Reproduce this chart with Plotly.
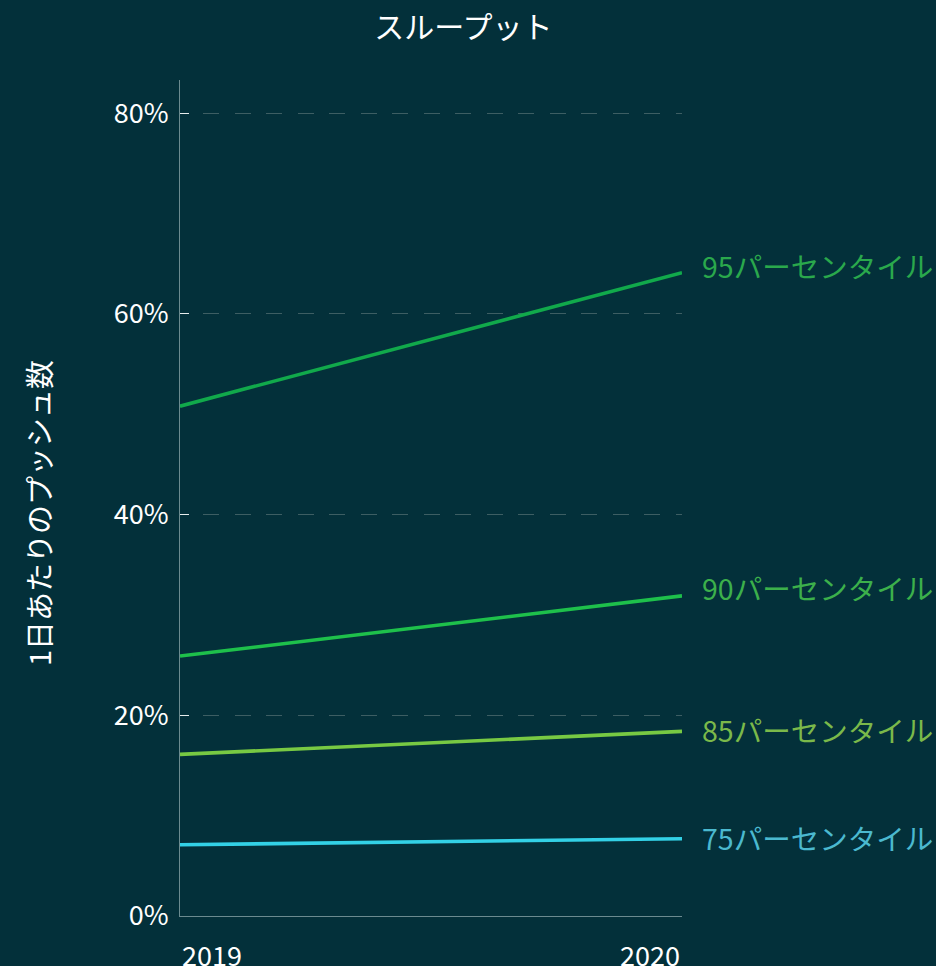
import plotly.graph_objects as go

# Years on the x axis and throughput percentiles per year
years = [2019, 2020]
year_labels = ["2019", "2020"]
series_names = ["95パーセンタイル", "90パーセンタイル", "85パーセンタイル", "75パーセンタイル"]
p95 = [0.508, 0.641]
p90 = [0.259, 0.319]
p85 = [0.161, 0.184]
p75 = [0.071, 0.077]
y_ticks = [0, 0.2, 0.4, 0.6, 0.8]

series_values = [p95, p90, p85, p75]
line_colors = ["#11a94b", "#1ec04b", "#78c943", "#33d1e6"]
label_colors = ["#2aa84c", "#3cb04b", "#7bb94a", "#4bb9cf"]
label_lift = [7, 8, 2, 1]  # small vertical nudges for the end labels (px)

BG = "#03303a"
FONT = "Noto Sans CJK JP"

fig = go.Figure()
for name, vals, lc in zip(series_names, series_values, line_colors):
    fig.add_trace(go.Scatter(
        x=years, y=vals, mode="lines", name=name,
        line=dict(color=lc, width=3.6), showlegend=False,
        hoverinfo="skip",
    ))

annotations = []
# End-of-line series labels
for name, vals, tc, lift in zip(series_names, series_values, label_colors, label_lift):
    annotations.append(dict(
        x=years[-1], y=vals[-1], xref="x", yref="y",
        text=name, showarrow=False, xanchor="left", yanchor="middle",
        xshift=18, yshift=lift, font=dict(family=FONT, size=28.5, color=tc),
    ))

# Year labels aligned to the plot edges
for yr, lab, anchor in zip(years, year_labels, ["left", "right"]):
    annotations.append(dict(
        x=yr, y=0, xref="x", yref="paper", text=lab, showarrow=False,
        xanchor=anchor, yanchor="top", yshift=-17,
        font=dict(family=FONT, size=27, color="#ffffff"),
    ))

# Vertical axis title
annotations.append(dict(
    x=(38 - 180) / 502, y=0.482, xref="paper", yref="paper",
    text="1日あたりのプッシュ数",
    showarrow=False, textangle=-90, xanchor="center", yanchor="middle",
    font=dict(family=FONT, size=29, color="#ffffff"),
))

fig.update_layout(
    width=936, height=966,
    paper_bgcolor=BG, plot_bgcolor=BG,
    margin=dict(l=180, r=254, t=80, b=50),
    title=dict(text="スループット", x=0.495, xanchor="center", y=0.972, yanchor="middle",
               font=dict(family=FONT, size=30, color="#ffffff")),
    font=dict(family=FONT, color="#ffffff"),
    annotations=annotations,
)

fig.update_xaxes(
    range=[years[0], years[-1]], showticklabels=False, showgrid=False,
    zeroline=False, showline=True, linecolor="#6b8a8f", linewidth=1,
    ticks="",
)
fig.update_yaxes(
    range=[0, 0.833], tickvals=y_ticks, tickformat=".0%",
    showgrid=True, gridcolor="#3d5e63", gridwidth=1,
    griddash="7.5px,15.5px,8.5px,0px",
    zeroline=False, showline=True, linecolor="#6b8a8f", linewidth=1,
    ticks="inside", ticklen=9, tickcolor="#e6ecec", tickwidth=1,
    tickfont=dict(family=FONT, size=27, color="#ffffff"),
    ticklabelstandoff=5,
)

fig.write_html("out.html")
